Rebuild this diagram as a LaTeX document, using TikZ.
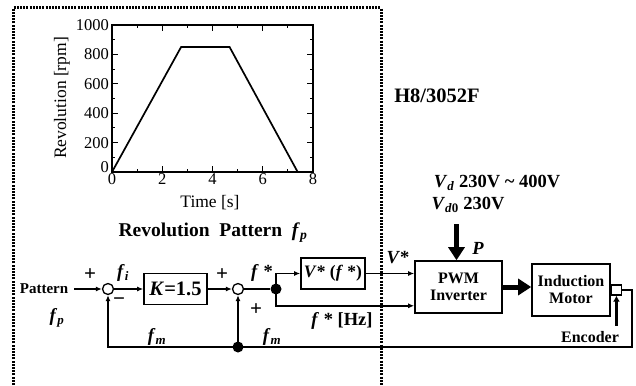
\documentclass[tikz,border=0pt]{standalone}
\usepackage{fontspec}
\setmainfont{Liberation Serif}
\usetikzlibrary{positioning,arrows.meta,calc}
\tikzset{
  blk/.style={rectangle, draw, line width=1.6pt, inner sep=2pt, align=center,
              font=\fontsize{16}{17}\selectfont\bfseries},
  sumc/.style={circle, draw, line width=1.3pt, fill=white, minimum size=11pt, inner sep=0pt},
  jdot/.style={circle, fill, minimum size=11pt, inner sep=0pt},
  sig/.style={-{Latex[length=6pt,width=5pt]}, line width=1.6pt},
  wire/.style={line width=1.6pt},
  pwr/.style={-{Triangle[length=13pt,width=16pt]}, line width=5pt},
  lbl/.style={font=\fontsize{18.5}{19}\selectfont\bfseries, inner sep=0pt},
  sgn/.style={font=\fontsize{21}{21}\selectfont\bfseries, inner sep=0pt},
  tck/.style={font=\fontsize{16.5}{17}\selectfont, inner sep=1pt},
}
\newcommand{\vi}[1]{\textit{#1}}
\begin{document}
\begin{tikzpicture}[x=1pt, y=-1pt]
  \useasboundingbox (0,0) rectangle (636,385);

  % ---- H8 controller border (dotted, open at the bottom) ----
  \draw[line width=3pt, dash pattern=on 2pt off 1.2pt] (13,385) -- (13,8) -- (381,8) -- (381,385);

  % ---- revolution pattern plot ----
  \draw[line width=1.3pt] (112,25) rectangle (313,172);
  \begin{scope}[shift={(112,172)}, x=25.125pt, y=0.147pt]
    \foreach \t in {1,...,7}{
      \pgfmathsetmacro\tl{mod(\t,2)==0 ? 40 : 22}
      \draw[line width=1pt] (\t,0) -- (\t,\tl);
      \draw[line width=1pt] (\t,1000) -- (\t,1000-\tl);
    }
    \foreach \v in {100,200,...,900}{
      \pgfmathsetmacro\vl{mod(\v,200)==0 ? 0.22 : 0.12}
      \draw[line width=1pt] (0,\v) -- (\vl,\v);
      \draw[line width=1pt] (8,\v) -- (8-\vl,\v);
    }
    \foreach \t in {0,2,...,8}{ \node[tck, below] (xt\t) at (\t,0) {\t}; }
    \foreach \v in {200,400,...,1000}{ \node[tck, left, xshift=-2pt] (yt\v) at (0,\v) {\v}; }
    \node[tck, anchor=south east, xshift=-2pt, yshift=-2pt] (yt0) at (0,0) {0};
    \draw[line width=1.7pt] (0,0) -- (2.75,850) -- (4.68,850) -- (7.39,0);
  \end{scope}
  \node[tck, rotate=90, font=\fontsize{17.5}{18}\selectfont] (ylab) at (62,98) {Revolution [rpm]};
  \node[tck, font=\fontsize{17.5}{18}\selectfont] (xlab) at (210,203) {Time [s]};
  \node[lbl, font=\fontsize{19.5}{20}\selectfont\bfseries] (title) at (213,233)
        {Revolution\ \ Pattern\ \ \vi{f}\textsubscript{\vi{p}}};
  \node[lbl, font=\fontsize{20.5}{21}\selectfont\bfseries] (h8) at (437,96) {H8/3052F};

  % ---- supply ----
  \node[lbl] (vd) at (497,183) {\vi{V}\textsubscript{\vi{d}} 230V \textasciitilde{} 400V};
  \node[lbl] (vd0) at (468,205) {\vi{V}\textsubscript{\vi{d}0} 230V};

  % ---- blocks ----
  \node[lbl, font=\fontsize{15}{15}\selectfont\bfseries] (pat) at (44,289) {Pattern};
  \node[sumc] (s1) at (108,289) {};
  \node[blk, minimum width=63pt, minimum height=31pt, font=\fontsize{20.5}{21}\selectfont\bfseries]
        (kb) at (175.5,289) {\vi{K}=1.5};
  \node[sumc] (s2) at (238,289) {};
  \node[jdot] (ja) at (276,289) {};
  \node[blk, minimum width=64pt, minimum height=31pt, inner sep=1pt, font=\fontsize{17.5}{18}\selectfont\bfseries]
        (vb) at (333,273.5) {\vi{V}* (\vi{f} *)};
  \node[blk, minimum width=87pt, minimum height=52pt] (pwm) at (458.5,287) {PWM\\Inverter};
  \node[blk, minimum width=78pt, minimum height=52pt] (mot) at (571,290) {Induction\\Motor};
  \node[draw, line width=1.3pt, minimum size=10pt, inner sep=0pt, right=0pt of mot] (enc) {};
  \node[jdot] (jb) at (238,347) {};
  \coordinate (fbr) at (632,347);

  % ===== forward path =====
  \draw[sig, shorten <=6pt] (pat) -- (s1);
  \draw[sig] (s1) -- (kb);
  \draw[sig] (kb) -- (s2);
  \draw[wire] (s2) -- (ja);
  \draw[sig] (ja.center) |- (vb.west);
  \draw[sig] (ja.center) |- ($(pwm.south west)+(0,-8)$);
  \draw[sig] (vb.east) -- (vb.east -| pwm.west);
  \draw[pwr] (pwm.east) -- (pwm.east -| mot.west);
  \draw[pwr] ($(pwm.north)+(-2,-36)$) -- ($(pwm.north)+(-2,0)$);
  \draw[-{Latex[length=6pt,width=7pt]}, line width=3pt] ($(enc.south)+(0,30)$) -- (enc.south);

  % ===== feedback =====
  \draw[sig] (enc.east) -| (fbr) -| (s1.south);
  \draw[sig] (jb.center) -- (s2.south);

  % ---- signal labels ----
  \node[sgn] (p1) at (90,275) {+};
  \node[lbl] (fi) at (123,273) {\vi{f}\textsubscript{\vi{i}}};
  \node[sgn] (m1) at (119,302) {−};
  \node[lbl] (fp) at (57,318) {\vi{f}\textsubscript{\vi{p}}};
  \node[sgn] (p2) at (222,275) {+};
  \node[lbl] (fs) at (262,273) {\vi{f} *};
  \node[sgn] (p3) at (256,310) {+};
  \node[lbl] (fm1) at (157,337) {\vi{f}\textsubscript{\vi{m}}};
  \node[lbl] (fm2) at (272,337) {\vi{f}\textsubscript{\vi{m}}};
  \node[lbl] (vs) at (398,258) {\vi{V}*};
  \node[lbl] (fhz) at (342,321) {\vi{f} * [Hz]};
  \node[lbl] (pp) at (478,248) {\vi{P}};
  \node[lbl, font=\fontsize{16}{16}\selectfont\bfseries] (encl) at (590,337) {Encoder};
\end{tikzpicture}
\end{document}
